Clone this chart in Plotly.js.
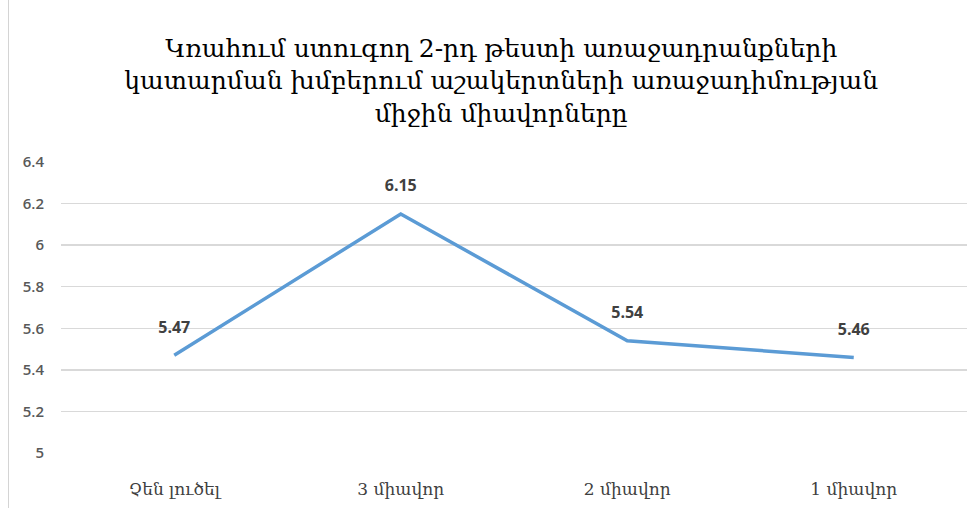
<!DOCTYPE html>
<html><head><meta charset="utf-8">
<script src="https://cdn.plot.ly/plotly-3.0.1.min.js"></script>
<style>html,body{margin:0;padding:0;background:#fff}#wrap{position:relative;width:979px;height:508px}#edge{position:absolute;left:8px;top:0;width:1px;height:508px;background:#d4d4d4}</style>
</head><body>
<div id="wrap"><div id="chart" style="width:979px;height:508px"></div><div id="edge"></div></div>
<script>
const categories = ["Չեն լուծել", "3 միավոր", "2 միավոր", "1 միավոր"];
const values = [5.47, 6.15, 5.54, 5.46];
const labels = ["5.47", "6.15", "5.54", "5.46"];
const yTicks = [5, 5.2, 5.4, 5.6, 5.8, 6, 6.2, 6.4];
const yTickText = ["5", "5.2", "5.4", "5.6", "5.8", "6", "6.2", "6.4"];
const titleText = "Կռահում ստուգող 2-րդ թեստի առաջադրանքների<br>կատարման խմբերում աշակերտների առաջադիմության<br>միջին միավորները";

Plotly.newPlot('chart', [{
  type: 'scatter', mode: 'lines+markers+text',
  x: categories, y: values, text: labels,
  textposition: 'top center',
  textfont: {family: '"Open Sans", sans-serif', size: 16, color: '#404040', weight: 'bold'},
  line: {color: '#5B9BD5', width: 3.5},
  marker: {size: 28, color: 'rgba(0,0,0,0)'},
  hoverinfo: 'skip', cliponaxis: false
}], {
  width: 979, height: 508,
  margin: {l: 61, r: 12, t: 162, b: 55},
  paper_bgcolor: '#fff', plot_bgcolor: '#fff',
  showlegend: false,
  title: {text: titleText, x: 0.512, xanchor: 'center', yref: 'container', y: 0.888, yanchor: 'middle',
    font: {family: '"DejaVu Serif", serif', size: 25, color: '#000'}},
  xaxis: {type: 'category', range: [-0.5, 3.5], showgrid: false, showline: false, zeroline: false,
    ticks: '', ticklabelstandoff: 24,
    tickfont: {family: '"DejaVu Serif", serif', size: 17, color: '#404040'}},
  yaxis: {range: [5, 6.4], tickvals: yTicks, ticktext: yTickText,
    showgrid: true, gridcolor: '#d9d9d9', gridwidth: 1.5, zeroline: false, showline: false,
    ticks: '', ticklabelstandoff: 16,
    tickfont: {family: '"Open Sans", sans-serif', size: 15, color: '#595959', weight: 600}}
}, {displayModeBar: false, staticPlot: true});
</script>
</body></html>
